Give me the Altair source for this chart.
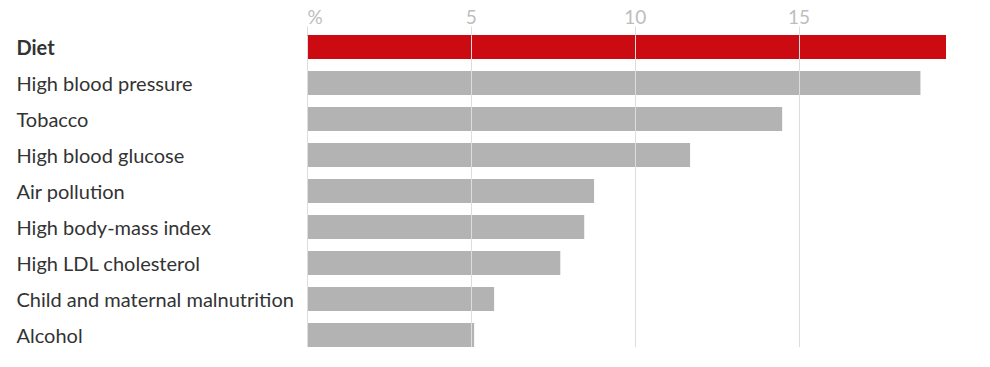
import altair as alt
import pandas as pd

categories = [
    "Diet",
    "High blood pressure",
    "Tobacco",
    "High blood glucose",
    "Air pollution",
    "High body-mass index",
    "High LDL cholesterol",
    "Child and maternal malnutrition",
    "Alcohol",
]
values = [19.5, 18.72, 14.5, 11.69, 8.76, 8.46, 7.73, 5.71, 5.1]
highlight = ["Diet"]

df = pd.DataFrame({"risk": categories, "pct": values})
df["hl"] = df["risk"].isin(highlight)

FONT = "Lato"

chart = (
    alt.Chart(df)
    .mark_bar()
    .encode(
        x=alt.X(
            "pct:Q",
            scale=alt.Scale(domain=[0, 19.5], nice=False),
            axis=alt.Axis(
                orient="top",
                values=[0, 5, 10, 15],
                labelExpr="datum.value == 0 ? '%' : datum.label",
                labelFlush=True,
                grid=True,
                gridColor="#dddddd",
                gridWidth=1,
                ticks=True,
                tickSize=9,
                tickColor="#dddddd",
                domain=False,
                labelFont=FONT,
                labelFontSize=19,
                labelColor="#bdbdbd",
                labelBaseline="alphabetic",
                labelPadding=3,
                title=None,
                zindex=1,
            ),
        ),
        y=alt.Y(
            "risk:N",
            sort=categories,
            scale=alt.Scale(paddingInner=1 / 3, paddingOuter=0),
            axis=alt.Axis(
                labelAlign="left",
                labelPadding=291,
                labelLimit=0,
                labelOffset=2,
                ticks=False,
                domain=False,
                labelFont=FONT,
                labelFontSize=20,
                labelColor="#333333",
                labelFontWeight={
                    "condition": {"test": "datum.value == 'Diet'", "value": "bold"},
                    "value": "normal",
                },
                title=None,
            ),
        ),
        color=alt.Color(
            "hl:N",
            scale=alt.Scale(domain=[True, False], range=["#cc0a11", "#b3b3b3"]),
            legend=None,
        ),
    )
    .properties(
        width=639,
        height=312,
        autosize=alt.AutoSizeParams(type="none"),
        padding={"left": 299, "top": 27, "right": 0, "bottom": 0},
    )
    .configure_view(stroke=None)
)

chart.save("out.html", embed_options={"renderer": "svg", "actions": False})
